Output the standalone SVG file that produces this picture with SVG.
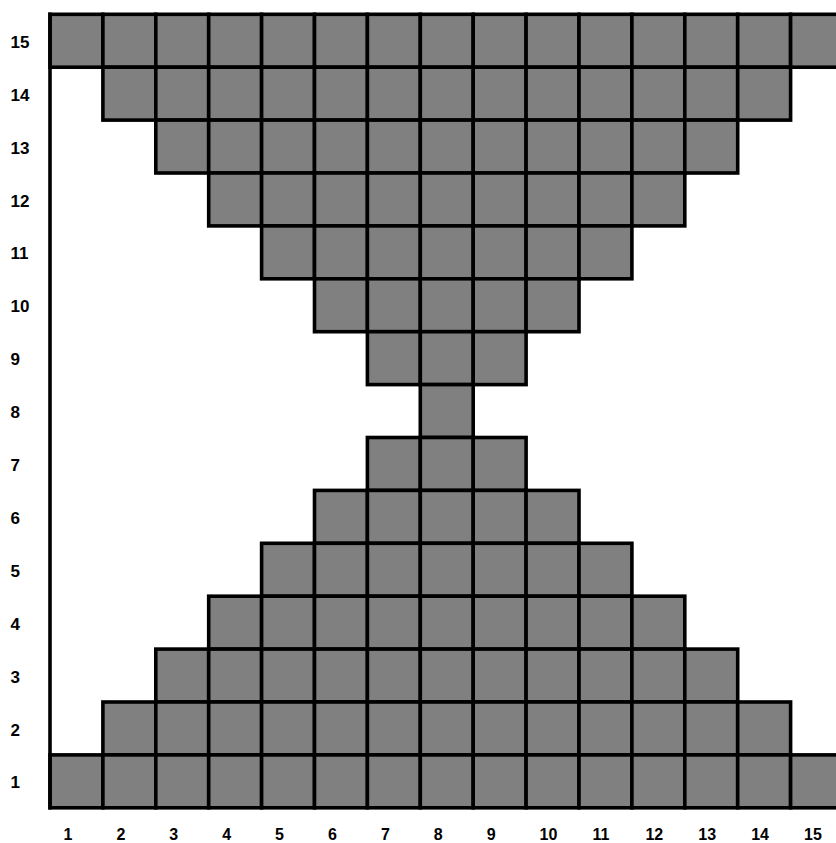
<svg xmlns="http://www.w3.org/2000/svg" width="836" height="843" viewBox="0 0 836 843">
<style>
.cells rect{fill:#808080;stroke:#000;stroke-width:3.6;}
.axis{stroke:#000;stroke-width:3.6;fill:none;}
.lbl{font-family:"Liberation Sans",Arial,sans-serif;font-weight:bold;font-size:17px;fill:#000;}
.xl{font-size:16px;}
</style>
<rect x="0" y="0" width="836" height="843" fill="#fff"/>
<g id="grid" class="cells">
<g id="row15">
<rect x="50" y="14.3" width="52.9" height="52.9"/><rect x="102.9" y="14.3" width="52.9" height="52.9"/><rect x="155.8" y="14.3" width="52.9" height="52.9"/><rect x="208.7" y="14.3" width="52.9" height="52.9"/><rect x="261.6" y="14.3" width="52.9" height="52.9"/><rect x="314.5" y="14.3" width="52.9" height="52.9"/><rect x="367.4" y="14.3" width="52.9" height="52.9"/><rect x="420.3" y="14.3" width="52.9" height="52.9"/><rect x="473.2" y="14.3" width="52.9" height="52.9"/><rect x="526.1" y="14.3" width="52.9" height="52.9"/><rect x="579" y="14.3" width="52.9" height="52.9"/><rect x="631.9" y="14.3" width="52.9" height="52.9"/><rect x="684.8" y="14.3" width="52.9" height="52.9"/><rect x="737.7" y="14.3" width="52.9" height="52.9"/><rect x="790.6" y="14.3" width="52.9" height="52.9"/>
</g>
<g id="row14">
<rect x="102.9" y="67.2" width="52.9" height="52.9"/><rect x="155.8" y="67.2" width="52.9" height="52.9"/><rect x="208.7" y="67.2" width="52.9" height="52.9"/><rect x="261.6" y="67.2" width="52.9" height="52.9"/><rect x="314.5" y="67.2" width="52.9" height="52.9"/><rect x="367.4" y="67.2" width="52.9" height="52.9"/><rect x="420.3" y="67.2" width="52.9" height="52.9"/><rect x="473.2" y="67.2" width="52.9" height="52.9"/><rect x="526.1" y="67.2" width="52.9" height="52.9"/><rect x="579" y="67.2" width="52.9" height="52.9"/><rect x="631.9" y="67.2" width="52.9" height="52.9"/><rect x="684.8" y="67.2" width="52.9" height="52.9"/><rect x="737.7" y="67.2" width="52.9" height="52.9"/>
</g>
<g id="row13">
<rect x="155.8" y="120.1" width="52.9" height="52.9"/><rect x="208.7" y="120.1" width="52.9" height="52.9"/><rect x="261.6" y="120.1" width="52.9" height="52.9"/><rect x="314.5" y="120.1" width="52.9" height="52.9"/><rect x="367.4" y="120.1" width="52.9" height="52.9"/><rect x="420.3" y="120.1" width="52.9" height="52.9"/><rect x="473.2" y="120.1" width="52.9" height="52.9"/><rect x="526.1" y="120.1" width="52.9" height="52.9"/><rect x="579" y="120.1" width="52.9" height="52.9"/><rect x="631.9" y="120.1" width="52.9" height="52.9"/><rect x="684.8" y="120.1" width="52.9" height="52.9"/>
</g>
<g id="row12">
<rect x="208.7" y="173" width="52.9" height="52.9"/><rect x="261.6" y="173" width="52.9" height="52.9"/><rect x="314.5" y="173" width="52.9" height="52.9"/><rect x="367.4" y="173" width="52.9" height="52.9"/><rect x="420.3" y="173" width="52.9" height="52.9"/><rect x="473.2" y="173" width="52.9" height="52.9"/><rect x="526.1" y="173" width="52.9" height="52.9"/><rect x="579" y="173" width="52.9" height="52.9"/><rect x="631.9" y="173" width="52.9" height="52.9"/>
</g>
<g id="row11">
<rect x="261.6" y="225.9" width="52.9" height="52.9"/><rect x="314.5" y="225.9" width="52.9" height="52.9"/><rect x="367.4" y="225.9" width="52.9" height="52.9"/><rect x="420.3" y="225.9" width="52.9" height="52.9"/><rect x="473.2" y="225.9" width="52.9" height="52.9"/><rect x="526.1" y="225.9" width="52.9" height="52.9"/><rect x="579" y="225.9" width="52.9" height="52.9"/>
</g>
<g id="row10">
<rect x="314.5" y="278.8" width="52.9" height="52.9"/><rect x="367.4" y="278.8" width="52.9" height="52.9"/><rect x="420.3" y="278.8" width="52.9" height="52.9"/><rect x="473.2" y="278.8" width="52.9" height="52.9"/><rect x="526.1" y="278.8" width="52.9" height="52.9"/>
</g>
<g id="row9">
<rect x="367.4" y="331.7" width="52.9" height="52.9"/><rect x="420.3" y="331.7" width="52.9" height="52.9"/><rect x="473.2" y="331.7" width="52.9" height="52.9"/>
</g>
<g id="row8">
<rect x="420.3" y="384.6" width="52.9" height="52.9"/>
</g>
<g id="row7">
<rect x="367.4" y="437.5" width="52.9" height="52.9"/><rect x="420.3" y="437.5" width="52.9" height="52.9"/><rect x="473.2" y="437.5" width="52.9" height="52.9"/>
</g>
<g id="row6">
<rect x="314.5" y="490.4" width="52.9" height="52.9"/><rect x="367.4" y="490.4" width="52.9" height="52.9"/><rect x="420.3" y="490.4" width="52.9" height="52.9"/><rect x="473.2" y="490.4" width="52.9" height="52.9"/><rect x="526.1" y="490.4" width="52.9" height="52.9"/>
</g>
<g id="row5">
<rect x="261.6" y="543.3" width="52.9" height="52.9"/><rect x="314.5" y="543.3" width="52.9" height="52.9"/><rect x="367.4" y="543.3" width="52.9" height="52.9"/><rect x="420.3" y="543.3" width="52.9" height="52.9"/><rect x="473.2" y="543.3" width="52.9" height="52.9"/><rect x="526.1" y="543.3" width="52.9" height="52.9"/><rect x="579" y="543.3" width="52.9" height="52.9"/>
</g>
<g id="row4">
<rect x="208.7" y="596.2" width="52.9" height="52.9"/><rect x="261.6" y="596.2" width="52.9" height="52.9"/><rect x="314.5" y="596.2" width="52.9" height="52.9"/><rect x="367.4" y="596.2" width="52.9" height="52.9"/><rect x="420.3" y="596.2" width="52.9" height="52.9"/><rect x="473.2" y="596.2" width="52.9" height="52.9"/><rect x="526.1" y="596.2" width="52.9" height="52.9"/><rect x="579" y="596.2" width="52.9" height="52.9"/><rect x="631.9" y="596.2" width="52.9" height="52.9"/>
</g>
<g id="row3">
<rect x="155.8" y="649.1" width="52.9" height="52.9"/><rect x="208.7" y="649.1" width="52.9" height="52.9"/><rect x="261.6" y="649.1" width="52.9" height="52.9"/><rect x="314.5" y="649.1" width="52.9" height="52.9"/><rect x="367.4" y="649.1" width="52.9" height="52.9"/><rect x="420.3" y="649.1" width="52.9" height="52.9"/><rect x="473.2" y="649.1" width="52.9" height="52.9"/><rect x="526.1" y="649.1" width="52.9" height="52.9"/><rect x="579" y="649.1" width="52.9" height="52.9"/><rect x="631.9" y="649.1" width="52.9" height="52.9"/><rect x="684.8" y="649.1" width="52.9" height="52.9"/>
</g>
<g id="row2">
<rect x="102.9" y="702" width="52.9" height="52.9"/><rect x="155.8" y="702" width="52.9" height="52.9"/><rect x="208.7" y="702" width="52.9" height="52.9"/><rect x="261.6" y="702" width="52.9" height="52.9"/><rect x="314.5" y="702" width="52.9" height="52.9"/><rect x="367.4" y="702" width="52.9" height="52.9"/><rect x="420.3" y="702" width="52.9" height="52.9"/><rect x="473.2" y="702" width="52.9" height="52.9"/><rect x="526.1" y="702" width="52.9" height="52.9"/><rect x="579" y="702" width="52.9" height="52.9"/><rect x="631.9" y="702" width="52.9" height="52.9"/><rect x="684.8" y="702" width="52.9" height="52.9"/><rect x="737.7" y="702" width="52.9" height="52.9"/>
</g>
<g id="row1">
<rect x="50" y="754.9" width="52.9" height="52.9"/><rect x="102.9" y="754.9" width="52.9" height="52.9"/><rect x="155.8" y="754.9" width="52.9" height="52.9"/><rect x="208.7" y="754.9" width="52.9" height="52.9"/><rect x="261.6" y="754.9" width="52.9" height="52.9"/><rect x="314.5" y="754.9" width="52.9" height="52.9"/><rect x="367.4" y="754.9" width="52.9" height="52.9"/><rect x="420.3" y="754.9" width="52.9" height="52.9"/><rect x="473.2" y="754.9" width="52.9" height="52.9"/><rect x="526.1" y="754.9" width="52.9" height="52.9"/><rect x="579" y="754.9" width="52.9" height="52.9"/><rect x="631.9" y="754.9" width="52.9" height="52.9"/><rect x="684.8" y="754.9" width="52.9" height="52.9"/><rect x="737.7" y="754.9" width="52.9" height="52.9"/><rect x="790.6" y="754.9" width="52.9" height="52.9"/>
</g>
</g>
<g id="axis">
<line class="axis" x1="50" y1="12.5" x2="50" y2="809.6"/>
</g>
<g id="y-labels" class="lbl">
<text x="10.5" y="47.8">15</text>
<text x="10.5" y="100.7">14</text>
<text x="10.5" y="153.6">13</text>
<text x="10.5" y="206.5">12</text>
<text x="10.5" y="259.4">11</text>
<text x="10.5" y="312.3">10</text>
<text x="10.5" y="365.2">9</text>
<text x="10.5" y="418.1">8</text>
<text x="10.5" y="471">7</text>
<text x="10.5" y="523.9">6</text>
<text x="10.5" y="576.8">5</text>
<text x="10.5" y="629.7">4</text>
<text x="10.5" y="682.6">3</text>
<text x="10.5" y="735.5">2</text>
<text x="10.5" y="788.4">1</text>
</g>
<g id="x-labels" class="lbl xl">
<text x="63.5" y="839.5">1</text>
<text x="116.4" y="839.5">2</text>
<text x="169.3" y="839.5">3</text>
<text x="222.2" y="839.5">4</text>
<text x="275.1" y="839.5">5</text>
<text x="328" y="839.5">6</text>
<text x="380.9" y="839.5">7</text>
<text x="433.8" y="839.5">8</text>
<text x="486.7" y="839.5">9</text>
<text x="539.6" y="839.5">10</text>
<text x="592.5" y="839.5">11</text>
<text x="645.4" y="839.5">12</text>
<text x="698.3" y="839.5">13</text>
<text x="751.2" y="839.5">14</text>
<text x="804.1" y="839.5">15</text>
</g>
</svg>
